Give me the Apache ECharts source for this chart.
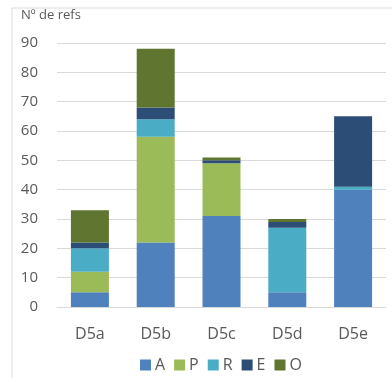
<!DOCTYPE html>
<html>
<head>
<meta charset="utf-8">
<script src="https://cdn.jsdelivr.net/npm/echarts@6/dist/echarts.min.js"></script>
<style>
html, body { margin: 0; padding: 0; background: #fff; }
#chart { width: 392px; height: 378px; }
</style>
</head>
<body>
<div id="chart"></div>
<script>
// Datos del gráfico
const categorias = ['D5a', 'D5b', 'D5c', 'D5d', 'D5e'];
const serieA = [5, 22, 31, 5, 40];
const serieP = [7, 36, 18, 0, 0];
const serieR = [8, 6, 0, 22, 1];
const serieE = [2, 4, 1, 2, 24];
const serieO = [11, 20, 1, 1, 0];
const ticksY = [0, 10, 20, 30, 40, 50, 60, 70, 80, 90];

const colores = ['#4f81bd', '#9bbb59', '#4bacc6', '#2c4d75', '#5f7530'];

var dom = document.getElementById('chart');
var myChart = echarts.init(dom, null, { renderer: 'canvas' });

function serie(nombre, datos) {
    return {
        name: nombre,
        type: 'bar',
        stack: 'total',
        barWidth: 38,
        data: datos
    };
}

var option = {
    animation: false,
    color: colores,
    textStyle: { fontFamily: 'Open Sans' },
    graphic: [{
        type: 'polyline',
        shape: { points: [[12, 378], [12, 8], [392, 8]] },
        style: { stroke: '#d9d9d9', lineWidth: 1, fill: null }
    }, {
        type: 'text',
        left: 21,
        top: 9,
        style: { text: 'Nº de refs', fill: '#595959', font: '13px "Open Sans"' }
    }],
    legend: {
        top: 357,
        left: 140,
        padding: 0,
        itemWidth: 11,
        itemHeight: 11,
        itemGap: 9,
        icon: 'rect',
        textStyle: { color: '#595959', fontSize: 16, padding: [0, 0, 0, -1] },
        data: ['A', 'P', 'R', 'E', 'O']
    },
    grid: {
        left: 57,
        right: 6,
        top: 43,
        bottom: 71
    },
    xAxis: {
        type: 'category',
        data: categorias,
        axisLine: { lineStyle: { color: '#d9d9d9' } },
        axisTick: { show: false },
        axisLabel: { color: '#595959', fontSize: 16, margin: 19 }
    },
    yAxis: {
        type: 'value',
        min: ticksY[0],
        max: ticksY[ticksY.length - 1],
        interval: 10,
        axisLine: { show: false },
        axisTick: { show: false },
        axisLabel: { color: '#595959', fontSize: 15, margin: 19 },
        splitLine: { lineStyle: { color: '#d9d9d9' } }
    },
    series: [
        serie('A', serieA),
        serie('P', serieP),
        serie('R', serieR),
        serie('E', serieE),
        serie('O', serieO)
    ]
};

myChart.setOption(option);
</script>
</body>
</html>
